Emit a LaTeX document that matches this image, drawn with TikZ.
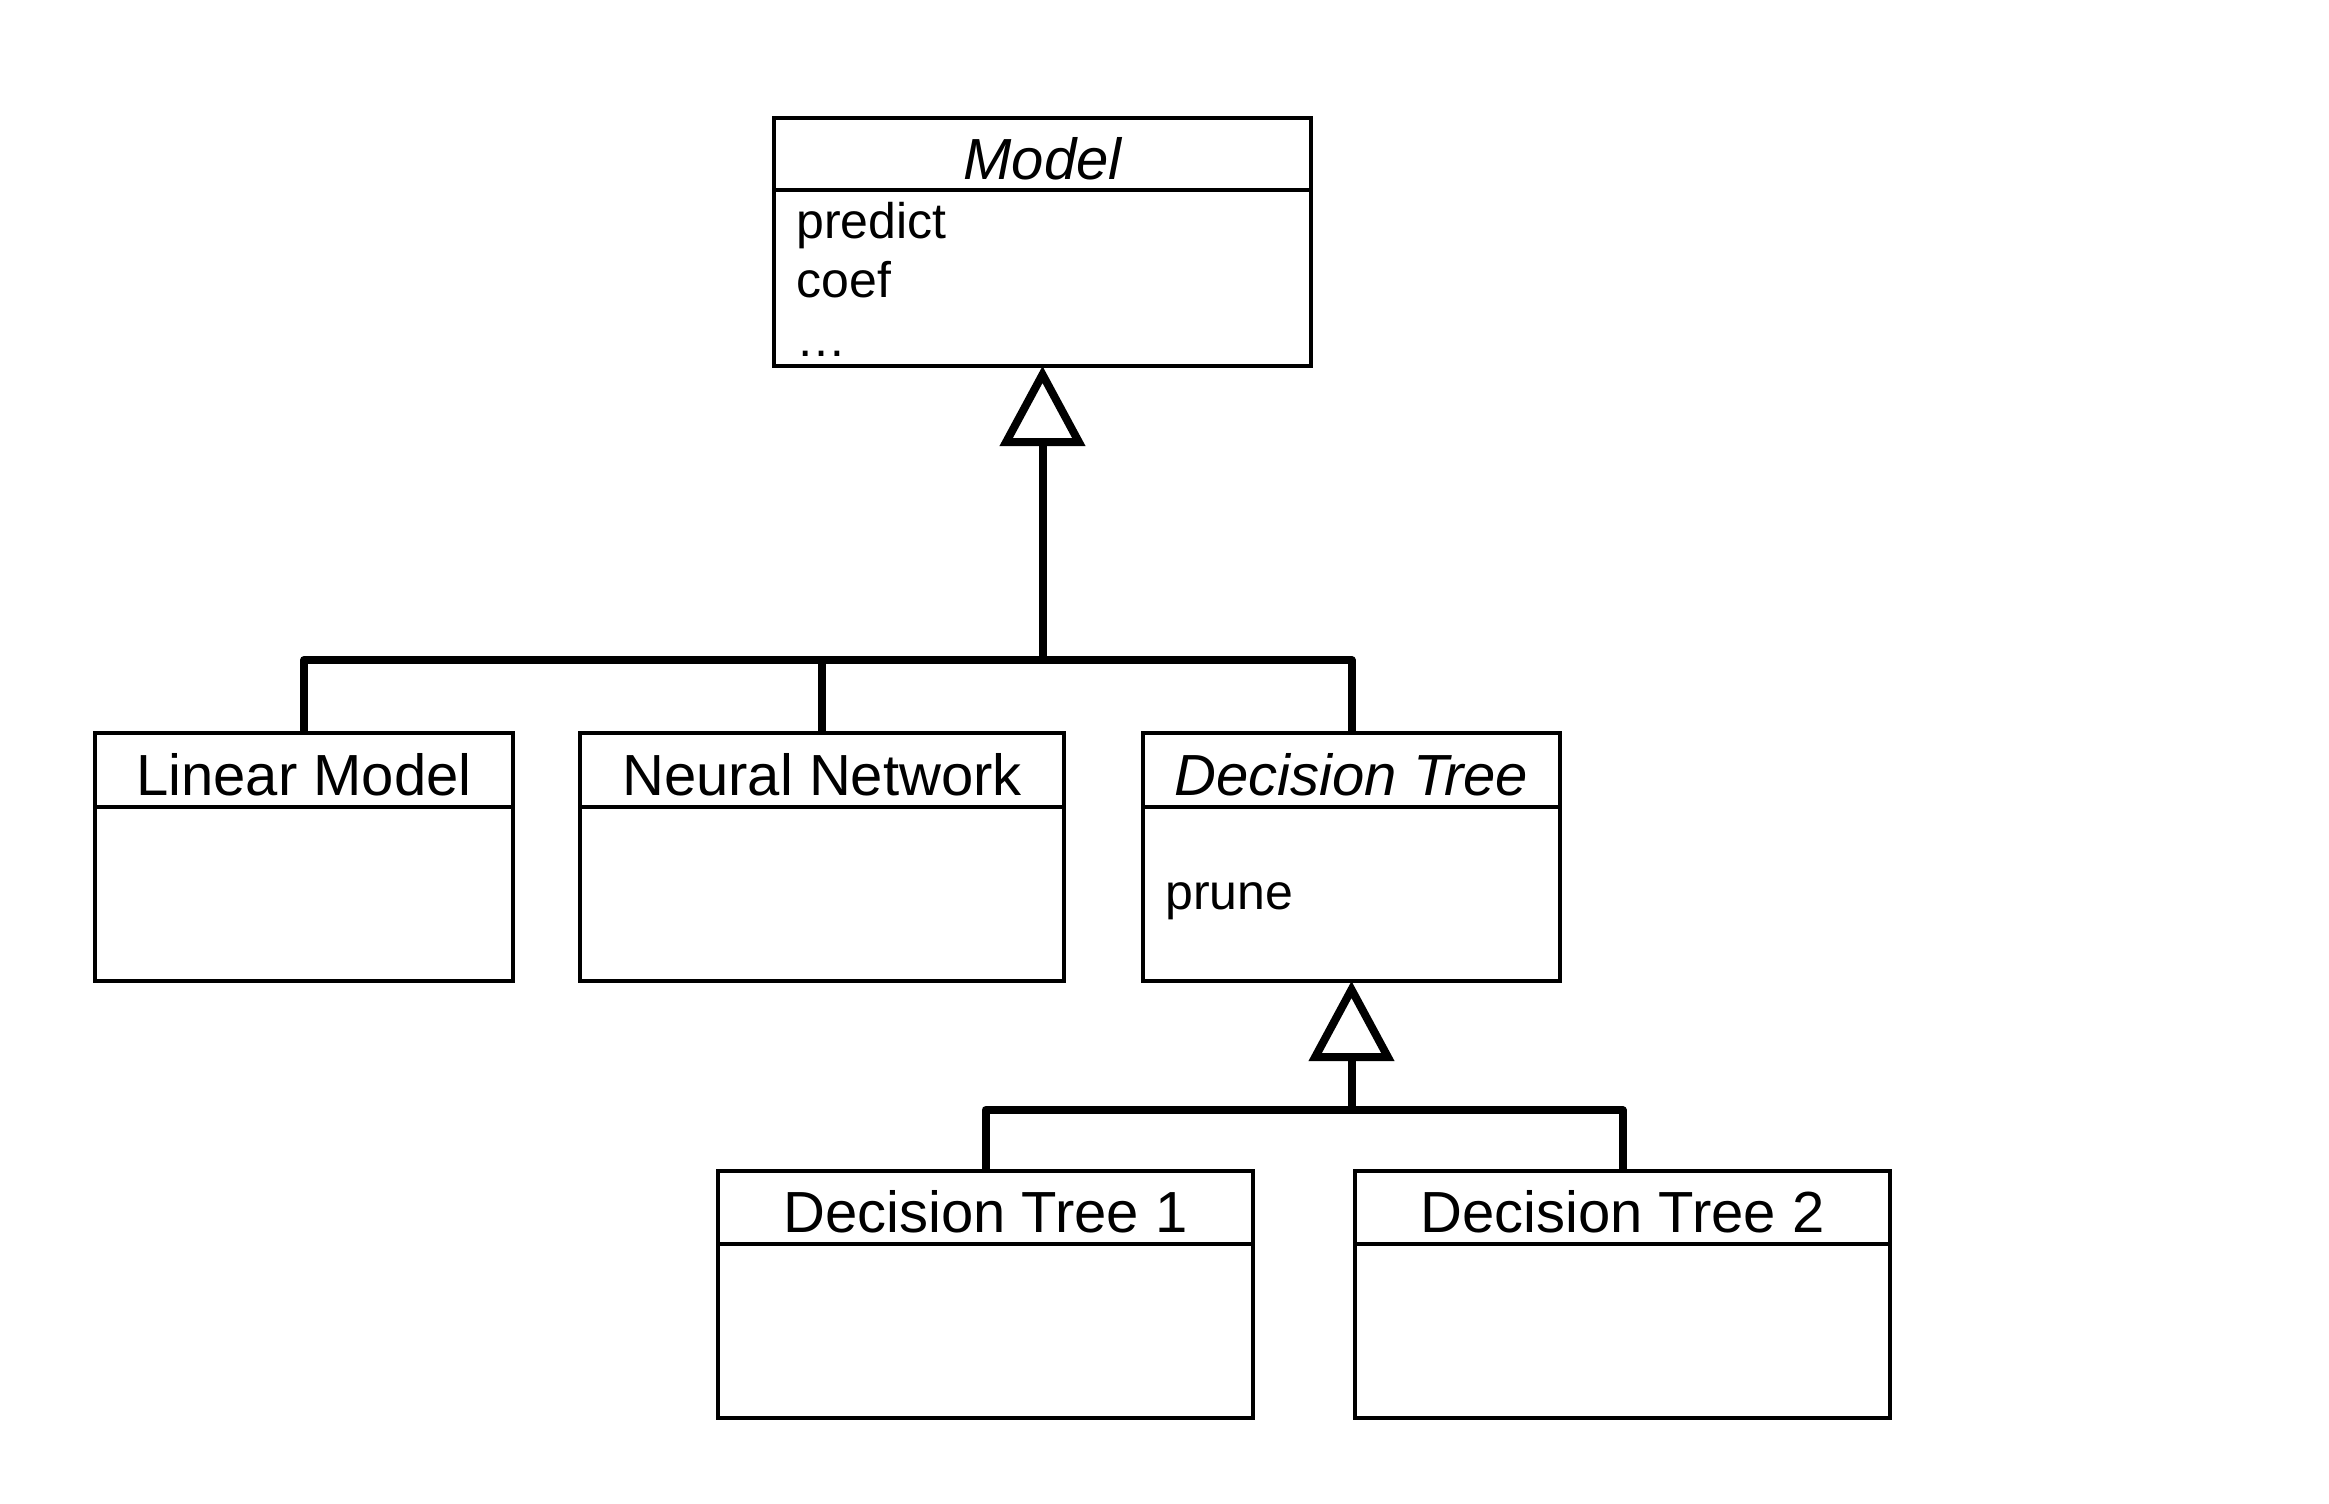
\documentclass[tikz,border=0pt]{standalone}
\usepackage{fontspec}
\setmainfont{Liberation Sans}
\usetikzlibrary{arrows.meta}
\begin{document}
\begin{tikzpicture}[x=0.5pt,y=-0.5pt,
  box/.style={draw, line width=2pt, anchor=north west, inner sep=0pt, outer sep=0pt},
  divider/.style={line width=2pt},
  hdr/.style={font=\fontsize{29}{34}\selectfont, anchor=base, inner sep=0pt},
  mem/.style={font=\fontsize{25}{30}\selectfont, anchor=base west, inner sep=0pt},
  conn/.style={line width=4pt, line join=round},
  inh/.style={conn, -{Triangle[open, length=40pt, width=42pt, line width=4pt]}}]
\useasboundingbox (0,0) rectangle (2329,1504);

% class boxes
\node[box, minimum width=268.5pt, minimum height=124pt] (model) at (774,118) {};
\node[box, minimum width=209pt, minimum height=124pt] (lm) at (95,733) {};
\node[box, minimum width=242pt, minimum height=124pt] (nn) at (580,733) {};
\node[box, minimum width=208.5pt, minimum height=124pt] (dt) at (1143,733) {};
\node[box, minimum width=267.5pt, minimum height=123.5pt] (dt1) at (718,1171) {};
\node[box, minimum width=267.5pt, minimum height=123.5pt] (dt2) at (1355,1171) {};

% header dividers
\draw[divider] (model.west |- 0,190) -- (model.east |- 0,190);
\draw[divider] (lm.west |- 0,807) -- (lm.east |- 0,807);
\draw[divider] (nn.west |- 0,807) -- (nn.east |- 0,807);
\draw[divider] (dt.west |- 0,807) -- (dt.east |- 0,807);
\draw[divider] (dt1.west |- 0,1244) -- (dt1.east |- 0,1244);
\draw[divider] (dt2.west |- 0,1244) -- (dt2.east |- 0,1244);

% names
\node[hdr] (modelname) at (1042.5,179) {\itshape Model};
\node[hdr] (lmname) at (304,795) {Linear Model};
\node[hdr] (nnname) at (822,795) {Neural Network};
\node[hdr] (dtname) at (1351.5,795) {\itshape Decision Tree};
\node[hdr] (dt1name) at (985.5,1232) {Decision Tree 1};
\node[hdr] (dt2name) at (1622.5,1232) {Decision Tree 2};

% members
\node[mem] (m1) at (796,238) {predict};
\node[mem] (m2) at (796,297) {coef};
\node[mem] (m3) at (796,356) {…};
\node[mem] (p1) at (1165,909) {prune};

% connectors
\coordinate (j1) at (1042.5,660);
\coordinate (j2) at (1351.5,1110);
\draw[conn] (lm.north) |- (j1);
\draw[conn] (dt.north) |- (j1);
\draw[conn] (nn.north) -- (nn.north |- j1);
\draw[inh] (j1) -- (model.south);
\draw[conn] (dt1.north) |- (j2);
\draw[conn] (dt2.north) |- (j2);
\draw[inh] (j2) -- (dt.south);
\end{tikzpicture}
\end{document}
